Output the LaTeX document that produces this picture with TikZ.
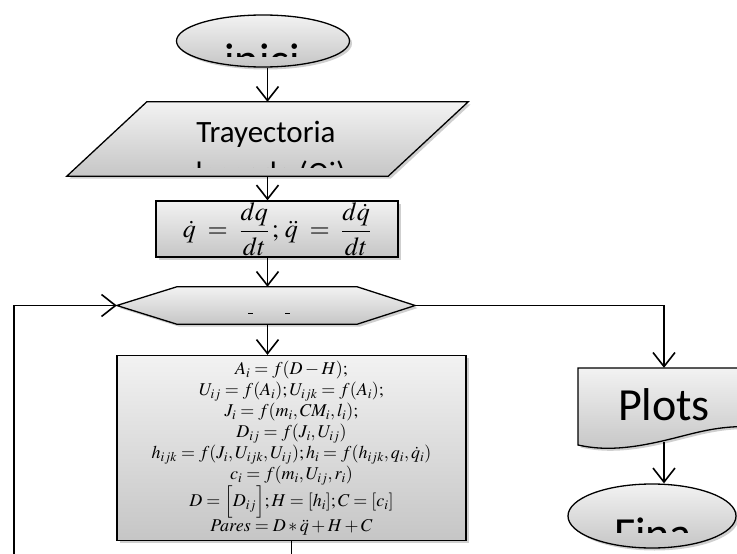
\documentclass[tikz,border=0pt]{standalone}
\usepackage{mathptmx}
\usepackage{fontspec}
\setmainfont{Carlito}
\usetikzlibrary{shapes.geometric, shadows, arrows.meta, calc, positioning}

\tikzset{
  grayfill/.style={draw=black, line width=1.3pt,
    top color=gray!10, bottom color=gray!45,
    drop shadow={shadow xshift=2.5pt, shadow yshift=-2.5pt, fill=gray!75}},
  terminal/.style={ellipse, grayfill, inner sep=0pt},
  frame/.style={rectangle, inner sep=0pt},
  procbox/.style={rectangle, grayfill, inner sep=0pt, align=center},
  bigtext/.style={font=\fontsize{46}{50}\selectfont, inner sep=0pt},
  midtext/.style={font=\fontsize{31}{34}\selectfont, inner sep=0pt},
  arr/.style={-{Straight Barb[length=14pt,width=22pt,line width=1.6pt]}, line width=1.8pt},
}

\begin{document}
\begin{tikzpicture}[x=1pt, y=-1pt]
  \clip (0,0) rectangle (737,554);

  % inicio
  \node[terminal, minimum width=173, minimum height=52] (inici) at (263,41) {};
  \begin{scope}
    \clip (170,20) rectangle (360,56);
    \node[bigtext, anchor=base] at (262,75) {inici};
  \end{scope}

  % trayectoria (paralelogramo)
  \node[frame, minimum width=401, minimum height=74] (tray) at (267.5,139) {};
  \path[grayfill] ($(tray.south west)$) -- ($(tray.north west)+(80,0)$)
    -- (tray.north east) -- ($(tray.south east)+(-80,0)$) -- cycle;
  \node[midtext, anchor=base] (traytxt) at (266,142) {Trayectoria};
  \begin{scope}
    \clip (150,150) rectangle (400,167);
    \node[midtext, anchor=base] at (266,183) {deseada (Qi)};
  \end{scope}

  % derivadas
  \node[procbox, minimum width=242, minimum height=56,
        font=\fontsize{26}{30}\selectfont] (deriv) at (277,229)
    {$\displaystyle\dot q\;=\;\frac{dq}{dt}\,;\,\ddot q\;=\;\frac{d\dot q}{dt}$};

  % condicion
  \node[frame, minimum width=298, minimum height=37] (cond) at (266,305.5) {};
  \path[grayfill] (cond.west) -- ($(cond.north west)+(60,0)$)
    -- ($(cond.north east)+(-58,0)$) -- (cond.east)
    -- ($(cond.south east)+(-58,0)$) -- ($(cond.south west)+(60,0)$) -- cycle;
  \draw[line width=1pt] (248,313) -- (253,313) (285,313) -- (290,313);

  % dinamica
  \node[procbox, minimum width=349, minimum height=185,
        font=\fontsize{18}{21}\selectfont] (dyn) at (291.5,448)
    {$A_i=f(D-H);$\\
     $U_{ij}=f(A_i);U_{ijk}=f(A_i);$\\
     $J_i=f(m_i,CM_i,l_i);$\\
     $D_{ij}=f(J_i,U_{ij})$\\
     $h_{ijk}=f(J_i,U_{ijk},U_{ij});h_i=f(h_{ijk},q_i,\dot q_i)$\\
     $c_i=f(m_i,U_{ij},r_i)$\\
     $D=\Big[D_{ij}\Big];H=[h_i];C=[c_i]$\\
     $Pares=D*\ddot q+H+C$};

  % plots
  \path[grayfill] (578,368) -- (760,368) -- (760,427)
    .. controls (712,424) and (690,436) .. (648,444)
    .. controls (612,451) and (592,448) .. (578,445) -- cycle;
  \node[bigtext, minimum width=172, minimum height=74] (plots) at (664,405) {Plots};

  % fin
  \node[terminal, minimum width=168, minimum height=64] (fina) at (652,516) {};
  \begin{scope}
    \clip (560,500) rectangle (737,532);
    \node[bigtext, anchor=base] at (653,549) {Fina};
  \end{scope}

  \coordinate (back) at ($(cond.west)+(-103,0)$);

  \draw[arr] (inici.south -| tray.center) -- (tray.north -| tray.center);
  \draw[arr] (tray.south -| tray.center) -- (deriv.north -| tray.center);
  \draw[arr] (deriv.south -| tray.center) -- (cond.north -| tray.center);
  \draw[arr] (cond.south -| tray.center) -- (dyn.north -| tray.center);
  \draw[arr] (dyn.south) -- ++(0,40) -| (back) -- (cond.west);
  \draw[arr] (cond.east) -| (plots.north);
  \draw[arr] (plots.south) -- (plots.south |- fina.north);
\end{tikzpicture}
\end{document}
